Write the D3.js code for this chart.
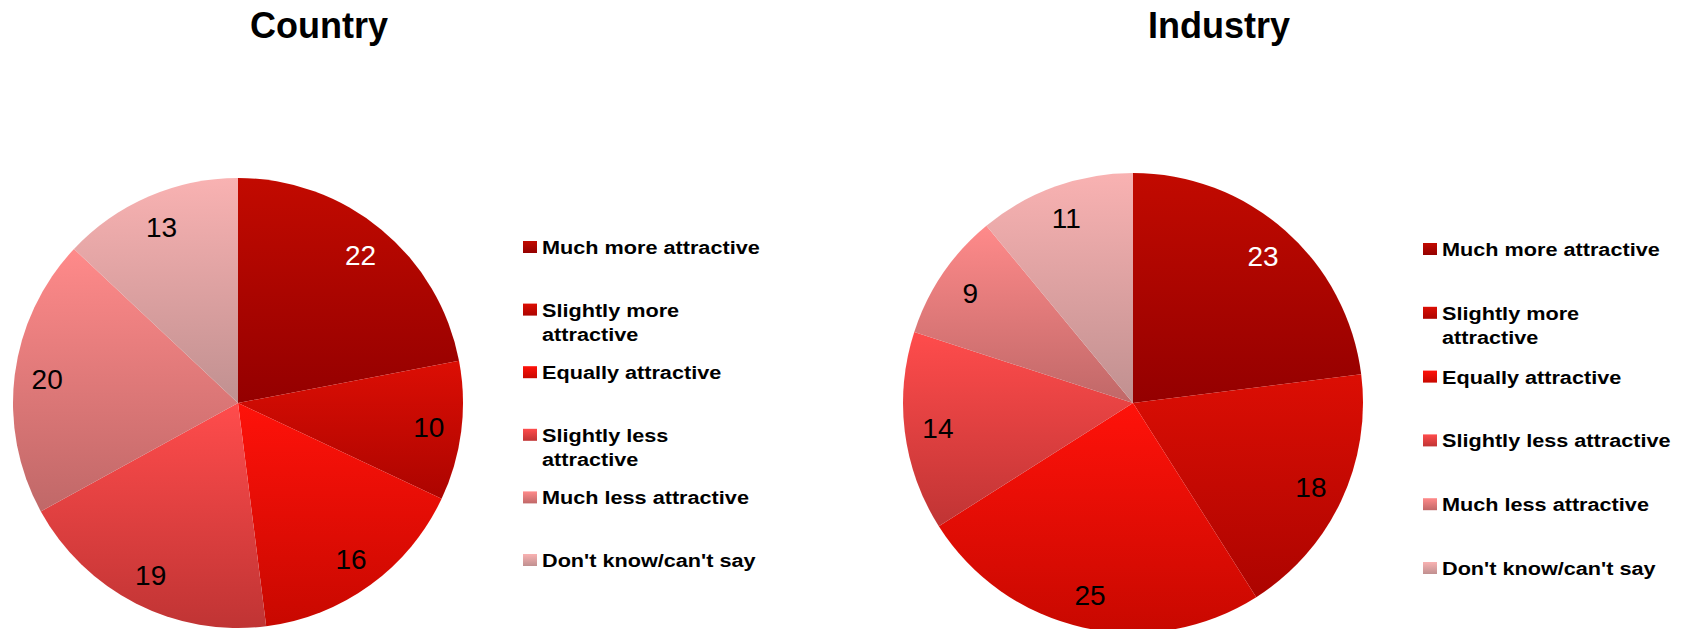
<!DOCTYPE html>
<html>
<head>
<meta charset="utf-8">
<script src="https://cdn.jsdelivr.net/npm/d3@7"></script>
<style>
  html, body { margin: 0; padding: 0; background: #fff; }
  svg { display: block; }
  text { font-family: Arial, "Liberation Sans", sans-serif; }
</style>
</head>
<body>
<svg id="chart" width="1686" height="629"></svg>
<script>
// ---- Data ----
const categories = [
  "Much more attractive",
  "Slightly more attractive",
  "Equally attractive",
  "Slightly less attractive",
  "Much less attractive",
  "Don't know/can't say"
];
const countryValues  = [22, 10, 16, 19, 20, 13];
const industryValues = [23, 18, 25, 14, 9, 11];
const chartTitles = ["Country", "Industry"];
// legend label lines as they wrap in each legend
const countryLegendLines = [
  ["Much more attractive"],
  ["Slightly more", "attractive"],
  ["Equally attractive"],
  ["Slightly less", "attractive"],
  ["Much less attractive"],
  ["Don't know/can't say"]
];
const industryLegendLines = [
  ["Much more attractive"],
  ["Slightly more", "attractive"],
  ["Equally attractive"],
  ["Slightly less attractive"],
  ["Much less attractive"],
  ["Don't know/can't say"]
];
const topColors    = ["#C20A00", "#DC0E04", "#FF120A", "#FF4C4C", "#FF8A8A", "#F9B2B2"];
const bottomColors = ["#940000", "#AC0400", "#C80800", "#C03434", "#C06868", "#C09090"];
const labelColors  = ["#ffffff", "#000000", "#000000", "#000000", "#000000", "#000000"];

// ---- Drawing ----
const svg = d3.select("#chart");
const defs = svg.append("defs");
categories.forEach((c, i) => {
  const g = defs.append("linearGradient")
    .attr("id", "grad" + i)
    .attr("x1", 0).attr("y1", 0).attr("x2", 0).attr("y2", 1);
  g.append("stop").attr("offset", "0%").attr("stop-color", topColors[i]);
  g.append("stop").attr("offset", "100%").attr("stop-color", bottomColors[i]);
});

const charts = [
  { title: chartTitles[0], values: countryValues, lines: countryLegendLines,
    ox: 0, cx: 238, cy: 403, r: 225, titleX: 319, legendX: 523, legendY: [254, 567] },
  { title: chartTitles[1], values: industryValues, lines: industryLegendLines,
    ox: 900, cx: 233, cy: 403, r: 230, titleX: 319, legendX: 523, legendY: [256, 575] }
];

const pie = d3.pie().sort(null).value(d => d);

charts.forEach(ch => {
  const g = svg.append("g").attr("transform", `translate(${ch.ox},0)`);

  g.append("text")
    .attr("x", ch.titleX).attr("y", 38)
    .attr("text-anchor", "middle")
    .attr("font-size", 36).attr("font-weight", "bold")
    .attr("fill", "#000")
    .text(ch.title);

  const arc = d3.arc().innerRadius(0).outerRadius(ch.r);
  const labelArc = d3.arc().innerRadius(ch.r * 0.855).outerRadius(ch.r * 0.855);
  const pg = g.append("g").attr("transform", `translate(${ch.cx},${ch.cy})`);
  const arcs = pie(ch.values);

  pg.selectAll("path.slice").data(arcs).enter().append("path")
    .attr("class", "slice")
    .attr("d", arc)
    .attr("fill", (d, i) => `url(#grad${i})`);

  pg.selectAll("text.lbl").data(arcs).enter().append("text")
    .attr("class", "lbl")
    .attr("transform", d => `translate(${labelArc.centroid(d)})`)
    .attr("text-anchor", "middle")
    .attr("dy", "0.36em")
    .attr("font-size", 28)
    .attr("fill", (d, i) => labelColors[i])
    .text(d => d.data);

  // legend
  const ly = d3.scalePoint().domain(categories).range(ch.legendY);
  const lg = g.append("g");
  const item = lg.selectAll("g.item").data(categories).enter().append("g")
    .attr("class", "item")
    .attr("transform", d => `translate(${ch.legendX},${ly(d)})`);
  item.append("rect")
    .attr("x", 0).attr("y", -13).attr("width", 14).attr("height", 12)
    .attr("fill", (d, i) => `url(#grad${i})`);
  item.each(function(d, i) {
    const t = d3.select(this).append("text")
      .attr("transform", "translate(19,0) scale(1.14,1)")
      .attr("font-size", 19).attr("font-weight", "bold")
      .attr("fill", "#000");
    ch.lines[i].forEach((line, k) => {
      t.append("tspan").attr("x", 0).attr("y", k * 24).text(line);
    });
  });
});
</script>
</body>
</html>
